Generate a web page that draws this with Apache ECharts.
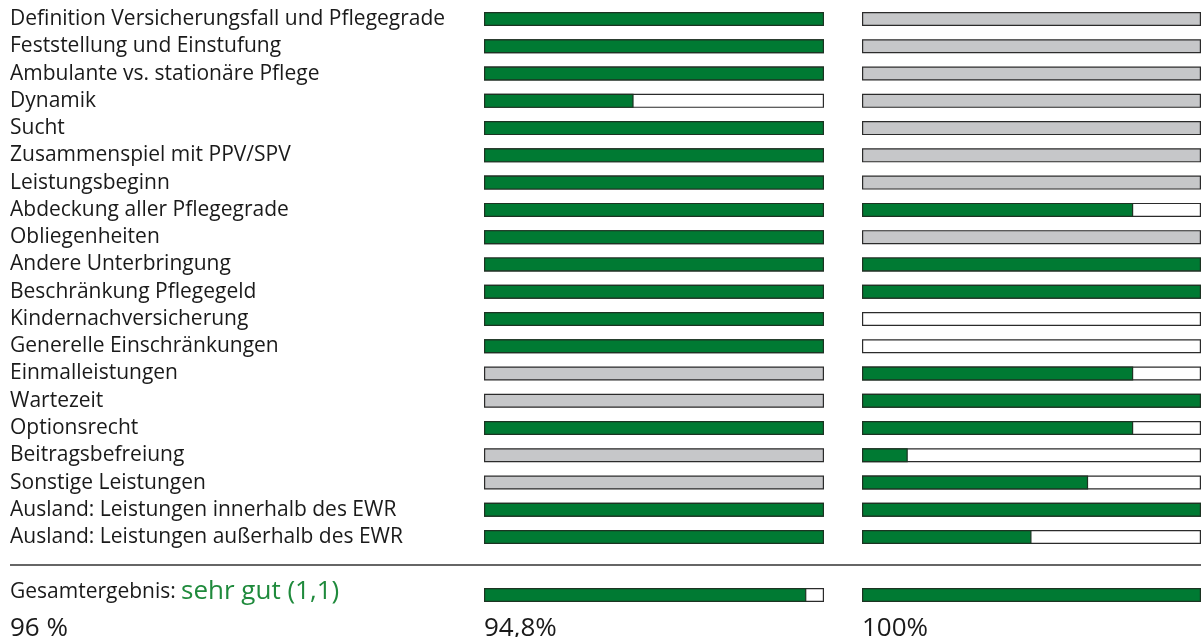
<!DOCTYPE html>
<html><head><meta charset="utf-8">
<script src="https://cdn.jsdelivr.net/npm/echarts@6/dist/echarts.min.js"></script>
<style>html,body{margin:0;padding:0;background:#fff}#c{width:1201px;height:637px}</style>
</head><body><div id="c"></div>
<script>
const categories = [
  "Definition Versicherungsfall und Pflegegrade",
  "Feststellung und Einstufung",
  "Ambulante vs. stationäre Pflege",
  "Dynamik",
  "Sucht",
  "Zusammenspiel mit PPV/SPV",
  "Leistungsbeginn",
  "Abdeckung aller Pflegegrade",
  "Obliegenheiten",
  "Andere Unterbringung",
  "Beschränkung Pflegegeld",
  "Kindernachversicherung",
  "Generelle Einschränkungen",
  "Einmalleistungen",
  "Wartezeit",
  "Optionsrecht",
  "Beitragsbefreiung",
  "Sonstige Leistungen",
  "Ausland: Leistungen innerhalb des EWR",
  "Ausland: Leistungen außerhalb des EWR"
];
// null = not rated (grey bar)
const leftValues  = [100,100,100,44,100,100,100,100,100,100,100,100,100,null,null,100,null,null,100,100];
const rightValues = [null,null,null,null,null,null,null,80,null,100,100,0,0,80,100,80,13.5,66.7,100,50];
const totalLabel = "Gesamtergebnis:";
const totalGrade = "sehr gut (1,1)";
const totalPercent = "96 %";
const leftTotal = 94.8;
const rightTotal = 100;
const leftTotalText = "94,8%";
const rightTotalText = "100%";

const GREEN = '#007a33', GREY = '#c6c7c9', BORDER = '#2b2b2b';
const FONT = 'Open Sans';

function grid(left, top, height, w) { return {left: left, top: top, width: w, height: height, containLabel: false}; }
const grids = [
  grid(484, 5.4, 545.3, 340), grid(862, 5.4, 545.3, 346),
  grid(484, 581, 28, 340), grid(862, 581, 28, 346)
];
const xAxes = grids.map((g,i)=>({gridIndex:i, type:'value', min:0, max:100, show:false}));
const yAxes = grids.map((g,i)=>({
  gridIndex:i, type:'category', inverse:true,
  data: i<2 ? categories : [totalLabel],
  axisLine:{show:false}, axisTick:{show:false}, splitLine:{show:false},
  axisLabel:{show: i===0, interval:0, hideOverlap:false, align:'left', margin:474,
    padding:[4,0,0,0], fontFamily:FONT, fontSize:21, color:'#1a1a1a'}
}));
function track(vals, idx) {
  return {type:'bar', xAxisIndex:idx, yAxisIndex:idx, barWidth:14, barGap:'-100%', silent:true,
    data: vals.map(v=>({value:100, itemStyle:{color: v===null ? GREY : '#fff', borderColor:BORDER, borderWidth:1.2}})),
    z:1, animation:false};
}
function fill(vals, idx) {
  return {type:'bar', xAxisIndex:idx, yAxisIndex:idx, barWidth:14, barGap:'-100%', silent:true,
    data: vals.map(v=>(v===null||v===0) ? null : v),
    itemStyle:{color:GREEN, borderColor:'#1c3322', borderWidth:1.2}, z:2, animation:false};
}
const option = {
  animation:false,
  grid: grids, xAxis: xAxes, yAxis: yAxes,
  series: [
    track(leftValues,0), fill(leftValues,0),
    track(rightValues,1), fill(rightValues,1),
    track([leftTotal],2), fill([leftTotal],2),
    track([rightTotal],3), fill([rightTotal],3)
  ],
  graphic: [
    {type:'line', shape:{x1:10,y1:565,x2:1201,y2:565}, style:{stroke:'#333', lineWidth:1.3}},
    {type:'text', x:10, y:603, style:{text:totalLabel, fontFamily:FONT, fontSize:21, fill:'#1a1a1a', verticalAlign:'bottom'}},
    {type:'text', x:181, y:605, style:{text:totalGrade, fontFamily:FONT, fontSize:26, fill:'#1f8a3c', verticalAlign:'bottom'}},
    {type:'text', x:10, y:642, style:{text:totalPercent, fontFamily:FONT, fontSize:26, fill:'#1a1a1a', verticalAlign:'bottom'}},
    {type:'text', x:484, y:642, style:{text:leftTotalText, fontFamily:FONT, fontSize:26, fill:'#1a1a1a', verticalAlign:'bottom'}},
    {type:'text', x:862, y:642, style:{text:rightTotalText, fontFamily:FONT, fontSize:26, fill:'#1a1a1a', verticalAlign:'bottom'}}
  ]
};
echarts.init(document.getElementById('c'), null, {renderer:'canvas'}).setOption(option);
</script></body></html>
